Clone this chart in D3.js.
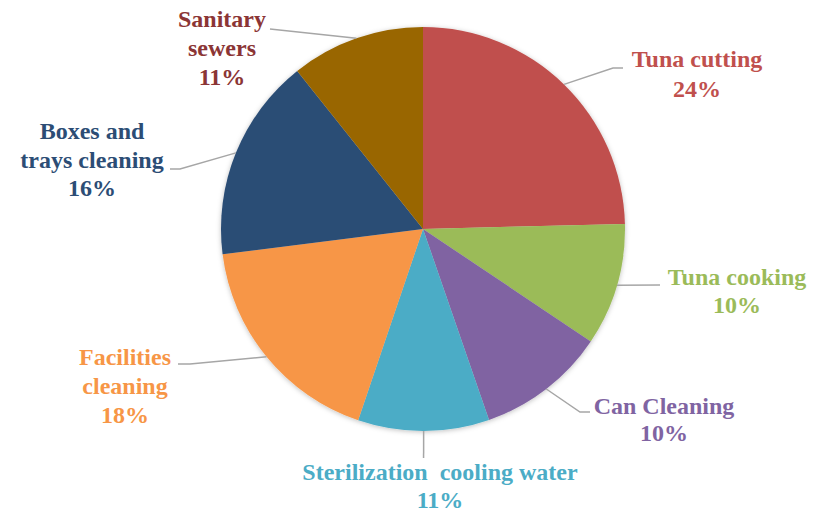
<!DOCTYPE html>
<html>
<head>
<meta charset="utf-8">
<script src="https://cdn.jsdelivr.net/npm/d3@7"></script>
<style>
  html, body { margin: 0; padding: 0; background: #ffffff; }
  svg { display: block; }
  svg text { font-family: "Liberation Serif" !important; font-weight: bold; }
</style>
</head>
<body>
<svg id="chart" width="815" height="518"></svg>
<script>
// ---- data ----
const categories = ["Tuna cutting", "Tuna cooking", "Can Cleaning", "Sterilization cooling water",
                    "Facilities cleaning", "Boxes and trays cleaning", "Sanitary sewers"];
const values = [24.6, 9.8, 10.3, 10.5, 17.8, 16.3, 10.7];
const percentLabels = ["24%", "10%", "10%", "11%", "18%", "16%", "11%"];
const labelLines = [
  ["Tuna cutting"],
  ["Tuna cooking"],
  ["Can Cleaning"],
  ["Sterilization\u00a0 cooling water"],
  ["Facilities", "cleaning"],
  ["Boxes and", "trays\u00a0cleaning"],
  ["Sanitary", "sewers"]
];

// ---- styles / layout ----
const sliceColors = ["#C0504D", "#9BBB59", "#8064A2", "#4BACC6", "#F79646", "#2C4D75", "#996600"];
const textColors  = ["#C0504D", "#9BBB59", "#8064A2", "#4BACC6", "#F79646", "#2C4D75", "#8B3535"];
const cx = 423, cy = 229, R = 202;
const labelPos = [
  {x: 697, y: 67,  leader: [[613, 68], [623, 68]]},
  {x: 737, y: 285, leader: [[660, 285]]},
  {x: 664, y: 414, leader: [[580, 412], [590, 412]]},
  {x: 440, y: 480, leader: [[423.6, 458]]},
  {x: 125, y: 365, leader: [[190, 364], [178, 364]]},
  {x: 92,  y: 139, leader: [[180, 169], [170, 169]]},
  {x: 222, y: 27,  leader: [[270, 29]]}
];
const lineGap = [30, 28, 27, 28, 29, 28.5, 29];

const svg = d3.select("#chart");
const defs = svg.append("defs");
const f = defs.append("filter").attr("id", "sh").attr("x", "-20%").attr("y", "-20%").attr("width", "140%").attr("height", "140%");
f.append("feDropShadow").attr("dx", 0).attr("dy", 1).attr("stdDeviation", 2.5)
  .attr("flood-color", "#000").attr("flood-opacity", 0.25);

const data = categories.map((c, i) => ({cat: c, value: values[i], i}));
const pie = d3.pie().value(d => d.value).sort(null);
const arcs = pie(data);
const arc = d3.arc().innerRadius(0).outerRadius(R);

const g = svg.append("g").attr("transform", `translate(${cx},${cy})`);
g.append("g").attr("filter", "url(#sh)")
  .selectAll("path").data(arcs).enter().append("path")
  .attr("d", arc)
  .attr("fill", d => sliceColors[d.data.i]);

arcs.forEach((a, i) => {
  const mid = (a.startAngle + a.endAngle) / 2;
  const sx = cx + R * Math.sin(mid), sy = cy - R * Math.cos(mid);
  const pts = [[sx, sy]].concat(labelPos[i].leader);
  svg.append("path")
    .attr("d", d3.line()(pts))
    .attr("fill", "none")
    .attr("stroke", "#A6A6A6")
    .attr("stroke-width", 1.5);
});

labelLines.forEach((lines, i) => {
  const all = lines.concat([percentLabels[i]]);
  all.forEach((ln, k) => {
    svg.append("text")
      .attr("x", labelPos[i].x)
      .attr("y", labelPos[i].y + k * lineGap[i])
      .attr("text-anchor", "middle")
      .attr("font-family", "Liberation Serif")
      .attr("font-weight", "bold")
      .attr("font-size", 24)
      .attr("fill", textColors[i])
      .text(ln);
  });
});
</script>
</body>
</html>
